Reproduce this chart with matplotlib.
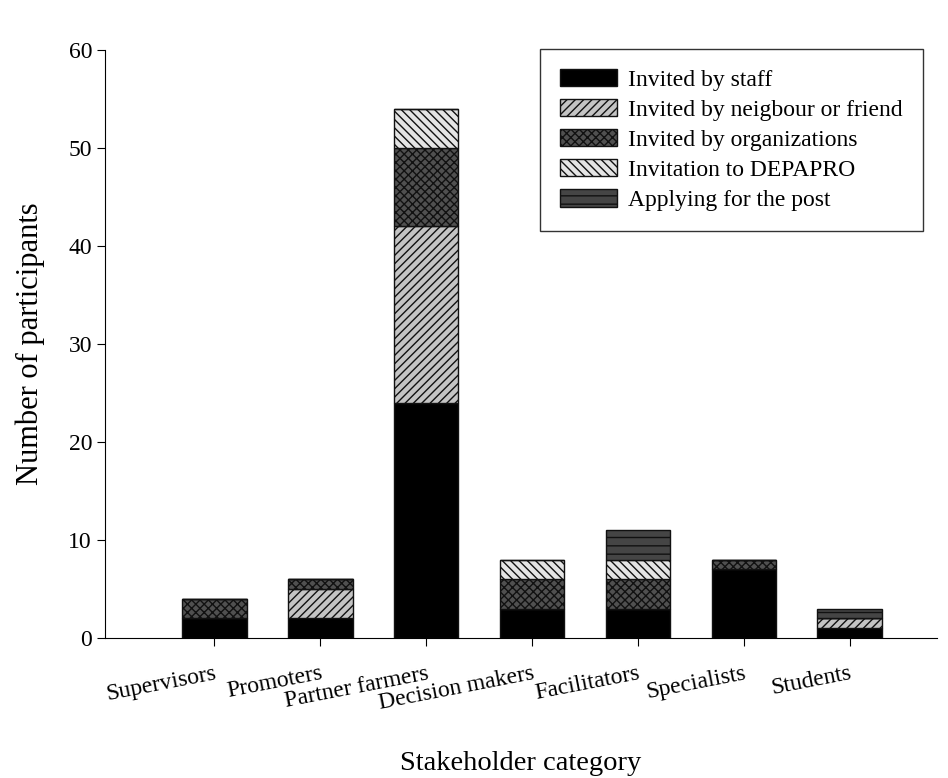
import matplotlib
matplotlib.use("Agg")
import matplotlib.pyplot as plt
import numpy as np

categories = ["Supervisors", "Promoters", "Partner farmers", "Decision makers",
              "Facilitators", "Specialists", "Students"]
staff = [2, 2, 24, 3, 3, 7, 1]
neighbour = [0, 3, 18, 0, 0, 0, 1]
organizations = [2, 1, 8, 3, 3, 1, 0]
depapro = [0, 0, 4, 2, 2, 0, 0]
applying = [0, 0, 0, 0, 3, 0, 1]
series_labels = ["Invited by staff", "Invited by neigbour or friend",
                 "Invited by organizations", "Invitation to DEPAPRO",
                 "Applying for the post"]
yticks = [0, 10, 20, 30, 40, 50, 60]

plt.rcParams['font.family'] = ['Liberation Serif', 'DejaVu Serif']
plt.rcParams['hatch.linewidth'] = 1.0

fig = plt.figure(figsize=(9.48, 7.78), dpi=100)
ax = fig.add_axes([0.111, 0.18, 0.877, 0.756])

x = np.arange(len(categories))
w = 0.61
series = [staff, neighbour, organizations, depapro, applying]
faces = ["#000000", "#c4c4c4", "#505050", "#e4e4e4", "#454545"]
hatches = [None, "////", "xxxx", "\\\\\\\\", "--"]
bottom = np.zeros(len(categories))
for vals, fc, h, lab in zip(series, faces, hatches, series_labels):
    vals = np.array(vals, dtype=float)
    ax.bar(x, vals, w, bottom=bottom, color=fc, hatch=h, edgecolor="#111111",
           linewidth=1.0, label=lab)
    bottom += vals

ax.set_xlim(-1.03, 6.82)
ax.set_ylim(0, 60)
ax.set_yticks(yticks)
ax.set_xticks(x)
ax.set_xticklabels(categories, rotation=11, ha="right", rotation_mode="anchor",
                   fontsize=17)
ax.tick_params(axis="y", labelsize=17, direction="out", length=6)
ax.tick_params(axis="x", direction="out", length=6, pad=12)
for s in ["top", "right"]:
    ax.spines[s].set_visible(False)
ax.set_ylabel("Number of participants", fontsize=22)
ax.set_xlabel("Stakeholder category", fontsize=20.5, labelpad=27)
ax.yaxis.set_label_coords(-0.072, 0.5)

leg = ax.legend(loc="upper right", bbox_to_anchor=(0.998, 1.022), fontsize=17,
                frameon=True, fancybox=False, edgecolor="black",
                handlelength=2.4, handleheight=0.75, borderpad=0.85,
                labelspacing=0.35, handletextpad=0.5)
leg.get_frame().set_linewidth(1.0)

fig.savefig("out.png", dpi=100)
